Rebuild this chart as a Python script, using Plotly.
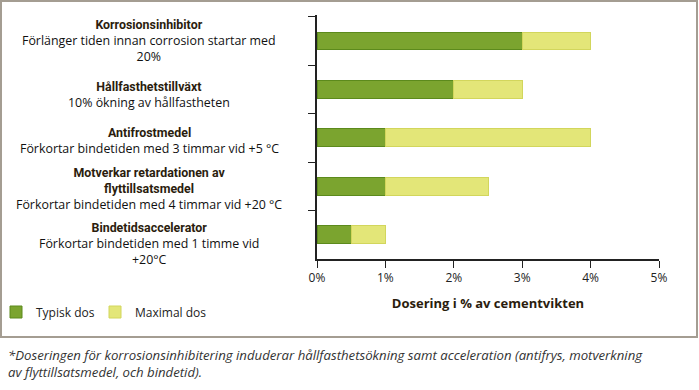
import plotly.graph_objects as go

categories = ["Korrosionsinhibitor", "Hållfasthetstillväxt", "Antifrostmedel",
              "Motverkar retardationen av<br>flyttillsatsmedel", "Bindetidsaccelerator"]
descriptions = ["Förlänger tiden innan corrosion startar med<br>20%",
                "10% ökning av hållfastheten",
                "Förkortar bindetiden med 3 timmar vid +5 °C",
                "Förkortar bindetiden med 4 timmar vid +20 °C",
                "Förkortar bindetiden med 1 timme vid<br>+20°C"]
typisk = [3.0, 2.0, 1.0, 1.0, 0.5]
maximal = [4.0, 3.0, 4.0, 2.5, 1.0]
extra = [m - t for m, t in zip(maximal, typisk)]
x_ticks = [0, 1, 2, 3, 4, 5]
x_tick_labels = ["0%", "1%", "2%", "3%", "4%", "5%"]
footnote_lines = ["*Doseringen för korrosionsinhibitering induderar hållfasthetsökning samt acceleration (antifrys, motverkning",
                  "av flyttillsatsmedel, och bindetid)."]

W, H = 699, 390
L, R, T, B = 317, 40, 15, 131
PW, PH = W - L - R, H - T - B

def px(x):
    return (x - L) / PW

def py(y):
    return (H - B - y) / PH

FONT = "Open Sans"
TFONT = "Roboto"
label_shift = [0, -6, -3, -3, -9]

fig = go.Figure()
fig.add_trace(go.Bar(y=categories, x=typisk, orientation="h", name="Typisk dos", legend="legend",
                     showlegend=True,
                     marker=dict(color="#7ba42f", line=dict(color="#5c8a1c", width=1))))
fig.add_trace(go.Bar(y=categories, x=extra, orientation="h", name="Maximal dos", legend="legend2",
                     showlegend=True,
                     marker=dict(color="#e3e678", line=dict(color="#d2d65c", width=1))))

annotations = []
for c, d, s in zip(categories, descriptions, label_shift):
    annotations.append(dict(x=px(149), xref="paper", y=c, yref="y", yshift=s,
                            text=(f"<span style='font-family:{TFONT};font-weight:bold;color:#2b1d0e'>{c}</span>"
                                  f"<br>{d}"),
                            showarrow=False, align="center", xanchor="center", yanchor="middle",
                            font=dict(family=FONT, size=12.4, color="#111")))
annotations.append(dict(x=px(6), xref="paper", y=py(363.5), yref="paper",
                        text="<i>" + "<br>".join(footnote_lines) + "</i>",
                        showarrow=False, align="left", xanchor="left", yanchor="middle",
                        font=dict(family=FONT, size=13.2, color="#333")))

legend_common = dict(orientation="h", xanchor="left", yanchor="middle", font=dict(size=12, color="#222"),
                     itemwidth=30, bgcolor="rgba(0,0,0,0)", indentation=-6)

fig.update_layout(
    width=W, height=H, barmode="stack", bargap=0.63, showlegend=True,
    margin=dict(l=L, r=R, t=T, b=B, autoexpand=False),
    paper_bgcolor="white", plot_bgcolor="white",
    font=dict(family=FONT, size=12, color="#222"),
    xaxis=dict(range=[0, 5], tickvals=x_ticks, ticktext=x_tick_labels, showgrid=False,
               zeroline=False, showline=True, linecolor="#222", linewidth=1.5,
               ticks="outside", ticklen=7, tickcolor="#222",
               title=dict(text="<b>Dosering i % av cementvikten</b>",
                          font=dict(family=FONT, size=13, color="#2b1d0e"), standoff=14)),
    yaxis=dict(autorange="reversed", showticklabels=False, showgrid=False, zeroline=False,
               showline=True, linecolor="#222", linewidth=1.5, ticks="outside", ticklen=7,
               tickson="boundaries", tickcolor="#222"),
    legend=dict(x=px(2), y=py(312), **legend_common),
    legend2=dict(x=px(101), y=py(312), **legend_common),
    annotations=annotations,
    shapes=[dict(type="rect", xref="paper", yref="paper", x0=px(1), x1=px(697), y0=py(337), y1=py(1),
                 line=dict(color="#a49d92", width=2), fillcolor="rgba(0,0,0,0)", layer="below")],
)

fig.write_html("out.html", config={"displayModeBar": False},
               post_script="document.body.style.margin='0';document.body.style.overflow='hidden';")
